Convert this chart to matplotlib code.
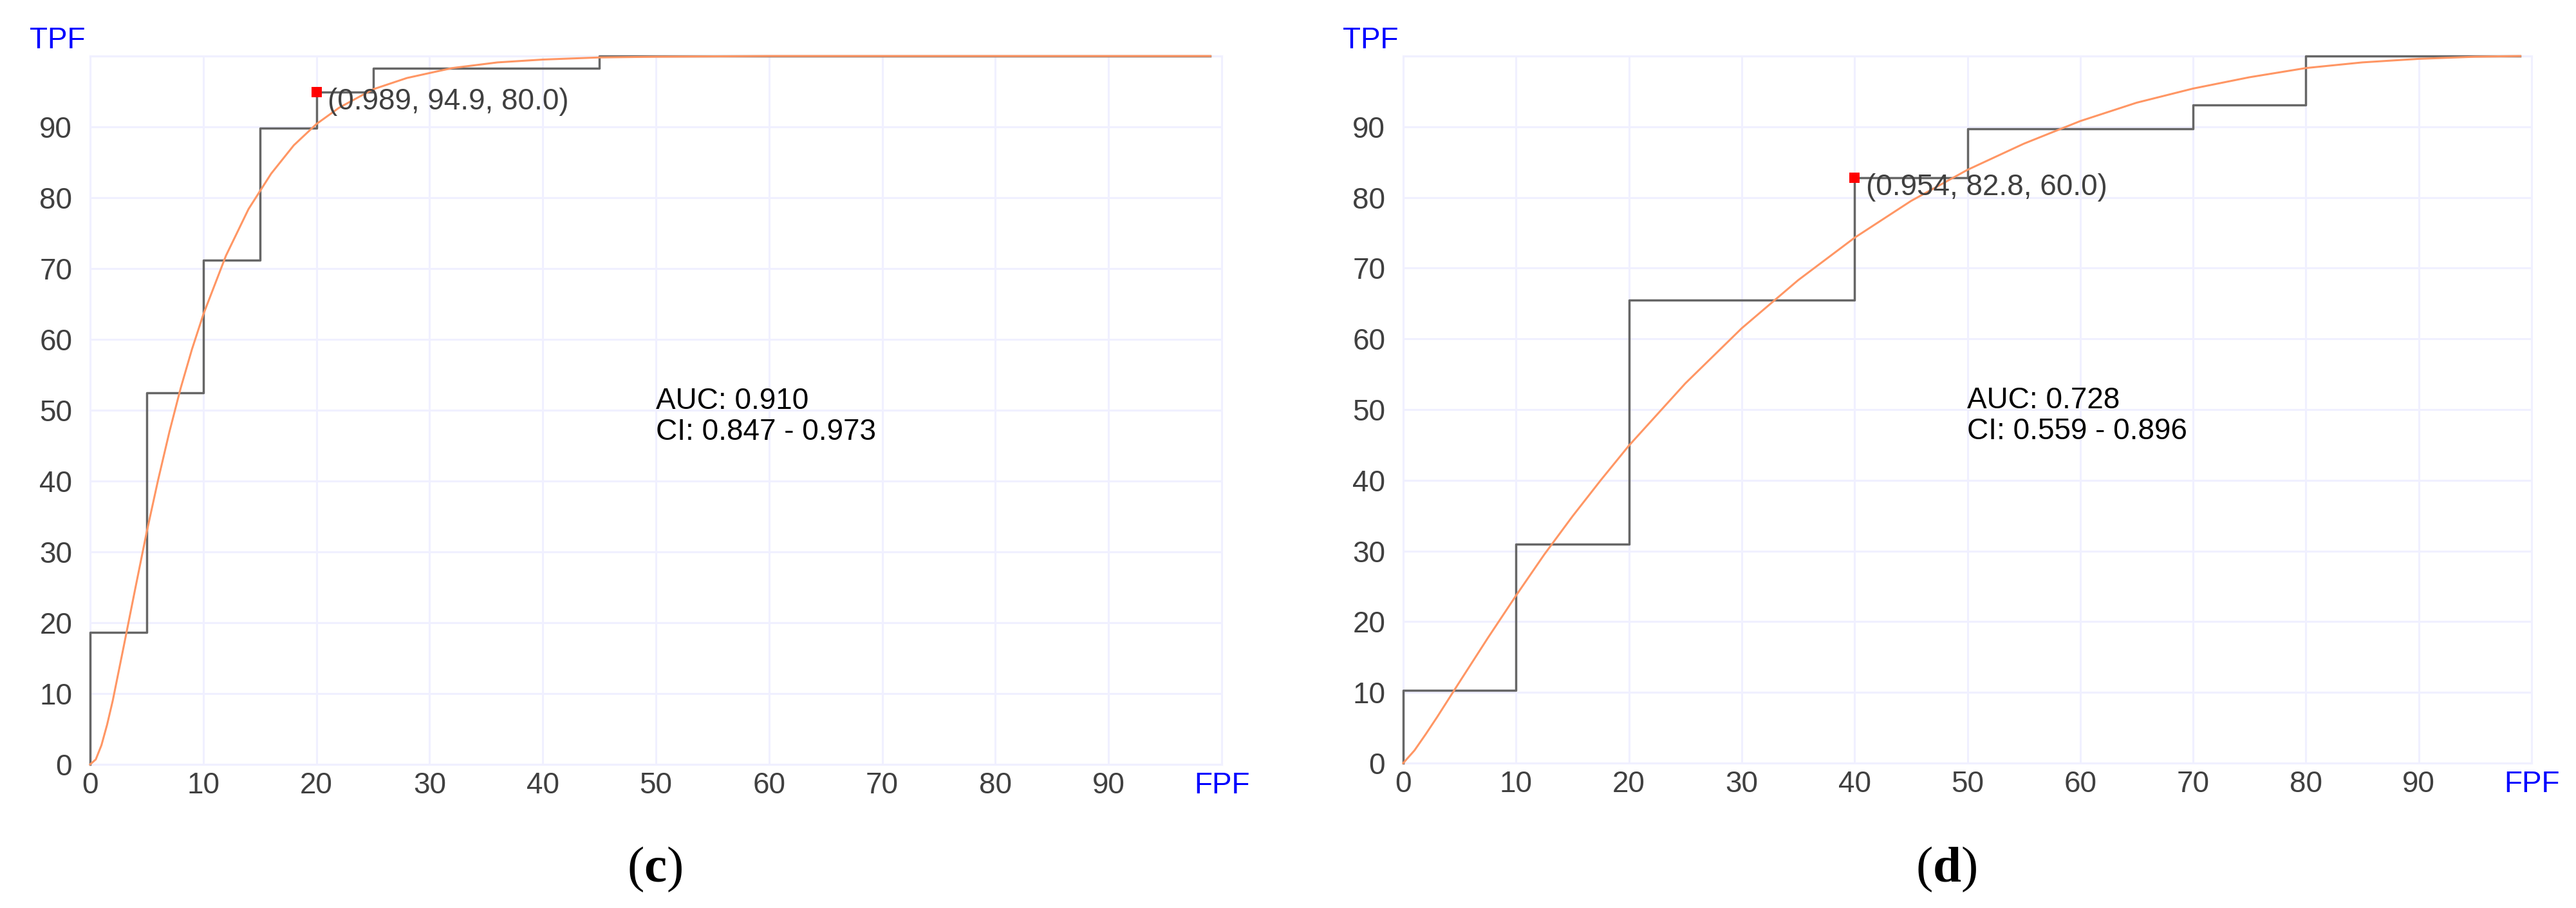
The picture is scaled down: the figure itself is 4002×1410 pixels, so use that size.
import matplotlib
matplotlib.use("Agg")
import matplotlib.pyplot as plt

plt.rcParams['font.family'] = ['Liberation Sans', 'DejaVu Sans']
plt.rcParams['mathtext.fontset'] = 'custom'
plt.rcParams['mathtext.rm'] = 'Liberation Serif'
plt.rcParams['mathtext.bf'] = 'Liberation Serif:bold'

# ---- panel (c) ----
c_fpf = [0, 0, 5, 10, 15, 20, 25, 45, 99]
c_tpf = [0, 18.6, 52.5, 71.2, 89.8, 94.9, 98.3, 100, 100]
c_fit_fpf = [0, 0.5, 1, 1.5, 2, 3, 4, 5, 6, 7, 8, 9, 10, 12, 14, 16, 18, 20, 22,
             25, 28, 32, 36, 40, 45, 50, 60, 70, 80, 90, 99]
c_fit_tpf = [0, 0.7, 2.7, 5.6, 9.0, 16.9, 24.9, 32.8, 40.1, 46.9, 53.1, 58.6, 63.5,
             71.8, 78.4, 83.4, 87.4, 90.4, 92.7, 95.3, 96.9, 98.3, 99.1, 99.5, 99.8,
             99.9, 100, 100, 100, 100, 100]
c_cut = (20, 94.9)
c_cut_label = "(0.989, 94.9, 80.0)"
c_auc = "AUC: 0.910"
c_ci = "CI: 0.847 - 0.973"

# ---- panel (d) ----
d_fpf = [0, 0, 10, 20, 40, 50, 70, 80, 99]
d_tpf = [0, 10.3, 31.0, 65.5, 82.8, 89.7, 93.1, 100, 100]
d_fit_fpf = [0, 1, 2, 3, 5, 7.5, 10, 12.5, 15, 17.5, 20, 25, 30, 35, 40, 45, 50,
             55, 60, 65, 70, 75, 80, 85, 90, 95, 99]
d_fit_tpf = [0, 1.8, 4.1, 6.5, 11.5, 17.7, 23.7, 29.5, 34.9, 40.0, 44.9, 53.7, 61.5,
             68.3, 74.3, 79.5, 83.9, 87.6, 90.8, 93.4, 95.4, 97.0, 98.3, 99.1, 99.6,
             99.9, 100]
d_cut = (40, 82.8)
d_cut_label = "(0.954, 82.8, 60.0)"
d_auc = "AUC: 0.728"
d_ci = "CI: 0.559 - 0.896"

ticks = [0, 10, 20, 30, 40, 50, 60, 70, 80, 90, 100]
x_labels = ['0', '10', '20', '30', '40', '50', '60', '70', '80', '90', 'FPF']
y_labels = ['0', '10', '20', '30', '40', '50', '60', '70', '80', '90', '']

GRID = '#F0F0FF'
TXT = '#404040'
FS = 33


def draw_panel(ax, fpf, tpf, fit_fpf, fit_tpf, cut, cut_label, auc, ci):
    ax.set_xlim(0, 100)
    ax.set_ylim(0, 100)
    ax.set_xticks(ticks)
    ax.set_yticks(ticks)
    ax.set_xticklabels(x_labels)
    ax.set_yticklabels(y_labels)
    ax.get_xticklabels()[-1].set_color('#0000FF')
    ax.tick_params(length=0, labelsize=FS, labelcolor=TXT)
    ax.tick_params(axis='x', pad=8)
    ax.tick_params(axis='y', pad=20)
    ax.get_xticklabels()[-1].set_color('#0000FF')
    ax.grid(True, color=GRID, lw=2.2)
    ax.set_axisbelow(True)
    for s in ax.spines.values():
        s.set_color(GRID)
        s.set_linewidth(2.2)

    ax.step(fpf, tpf, where='post', color='#666666', lw=2.5, clip_on=False, zorder=3)
    ax.plot(fit_fpf, fit_tpf, color='#FF9664', lw=2.2, clip_on=False, zorder=4)
    ax.plot([cut[0]], [cut[1]], 's', color='#FF0000', ms=11, mew=0, zorder=5, clip_on=False)
    ax.text(cut[0] + 1.0, cut[1] + 0.6, cut_label, fontsize=FS, color=TXT,
            ha='left', va='top', zorder=6)
    ax.text(50, 50.2, auc, fontsize=FS, color='black', ha='left', va='baseline')
    ax.text(50, 45.8, ci, fontsize=FS, color='black', ha='left', va='baseline')
    ax.text(-0.004, 1.002, 'TPF', transform=ax.transAxes, fontsize=FS,
            color='#0000FF', ha='right', va='bottom')


W, H = 4002, 1410
fig = plt.figure(figsize=(W / 100, H / 100), dpi=100)
ax1 = fig.add_axes([140 / W, (H - 1187) / H, 1758 / W, 1100 / H])
ax2 = fig.add_axes([2180 / W, (H - 1185) / H, 1753 / W, 1098 / H])

draw_panel(ax1, c_fpf, c_tpf, c_fit_fpf, c_fit_tpf, c_cut, c_cut_label, c_auc, c_ci)
draw_panel(ax2, d_fpf, d_tpf, d_fit_fpf, d_fit_tpf, d_cut, d_cut_label, d_auc, d_ci)

fig.text(1017 / W, (H - 1350) / H, r'($\mathbf{c}$)', fontsize=57,
         family='Liberation Serif', ha='center', va='center')
fig.text(3024 / W, (H - 1350) / H, r'($\mathbf{d}$)', fontsize=57,
         family='Liberation Serif', ha='center', va='center')

fig.savefig('out.png', dpi=100, facecolor='white')
